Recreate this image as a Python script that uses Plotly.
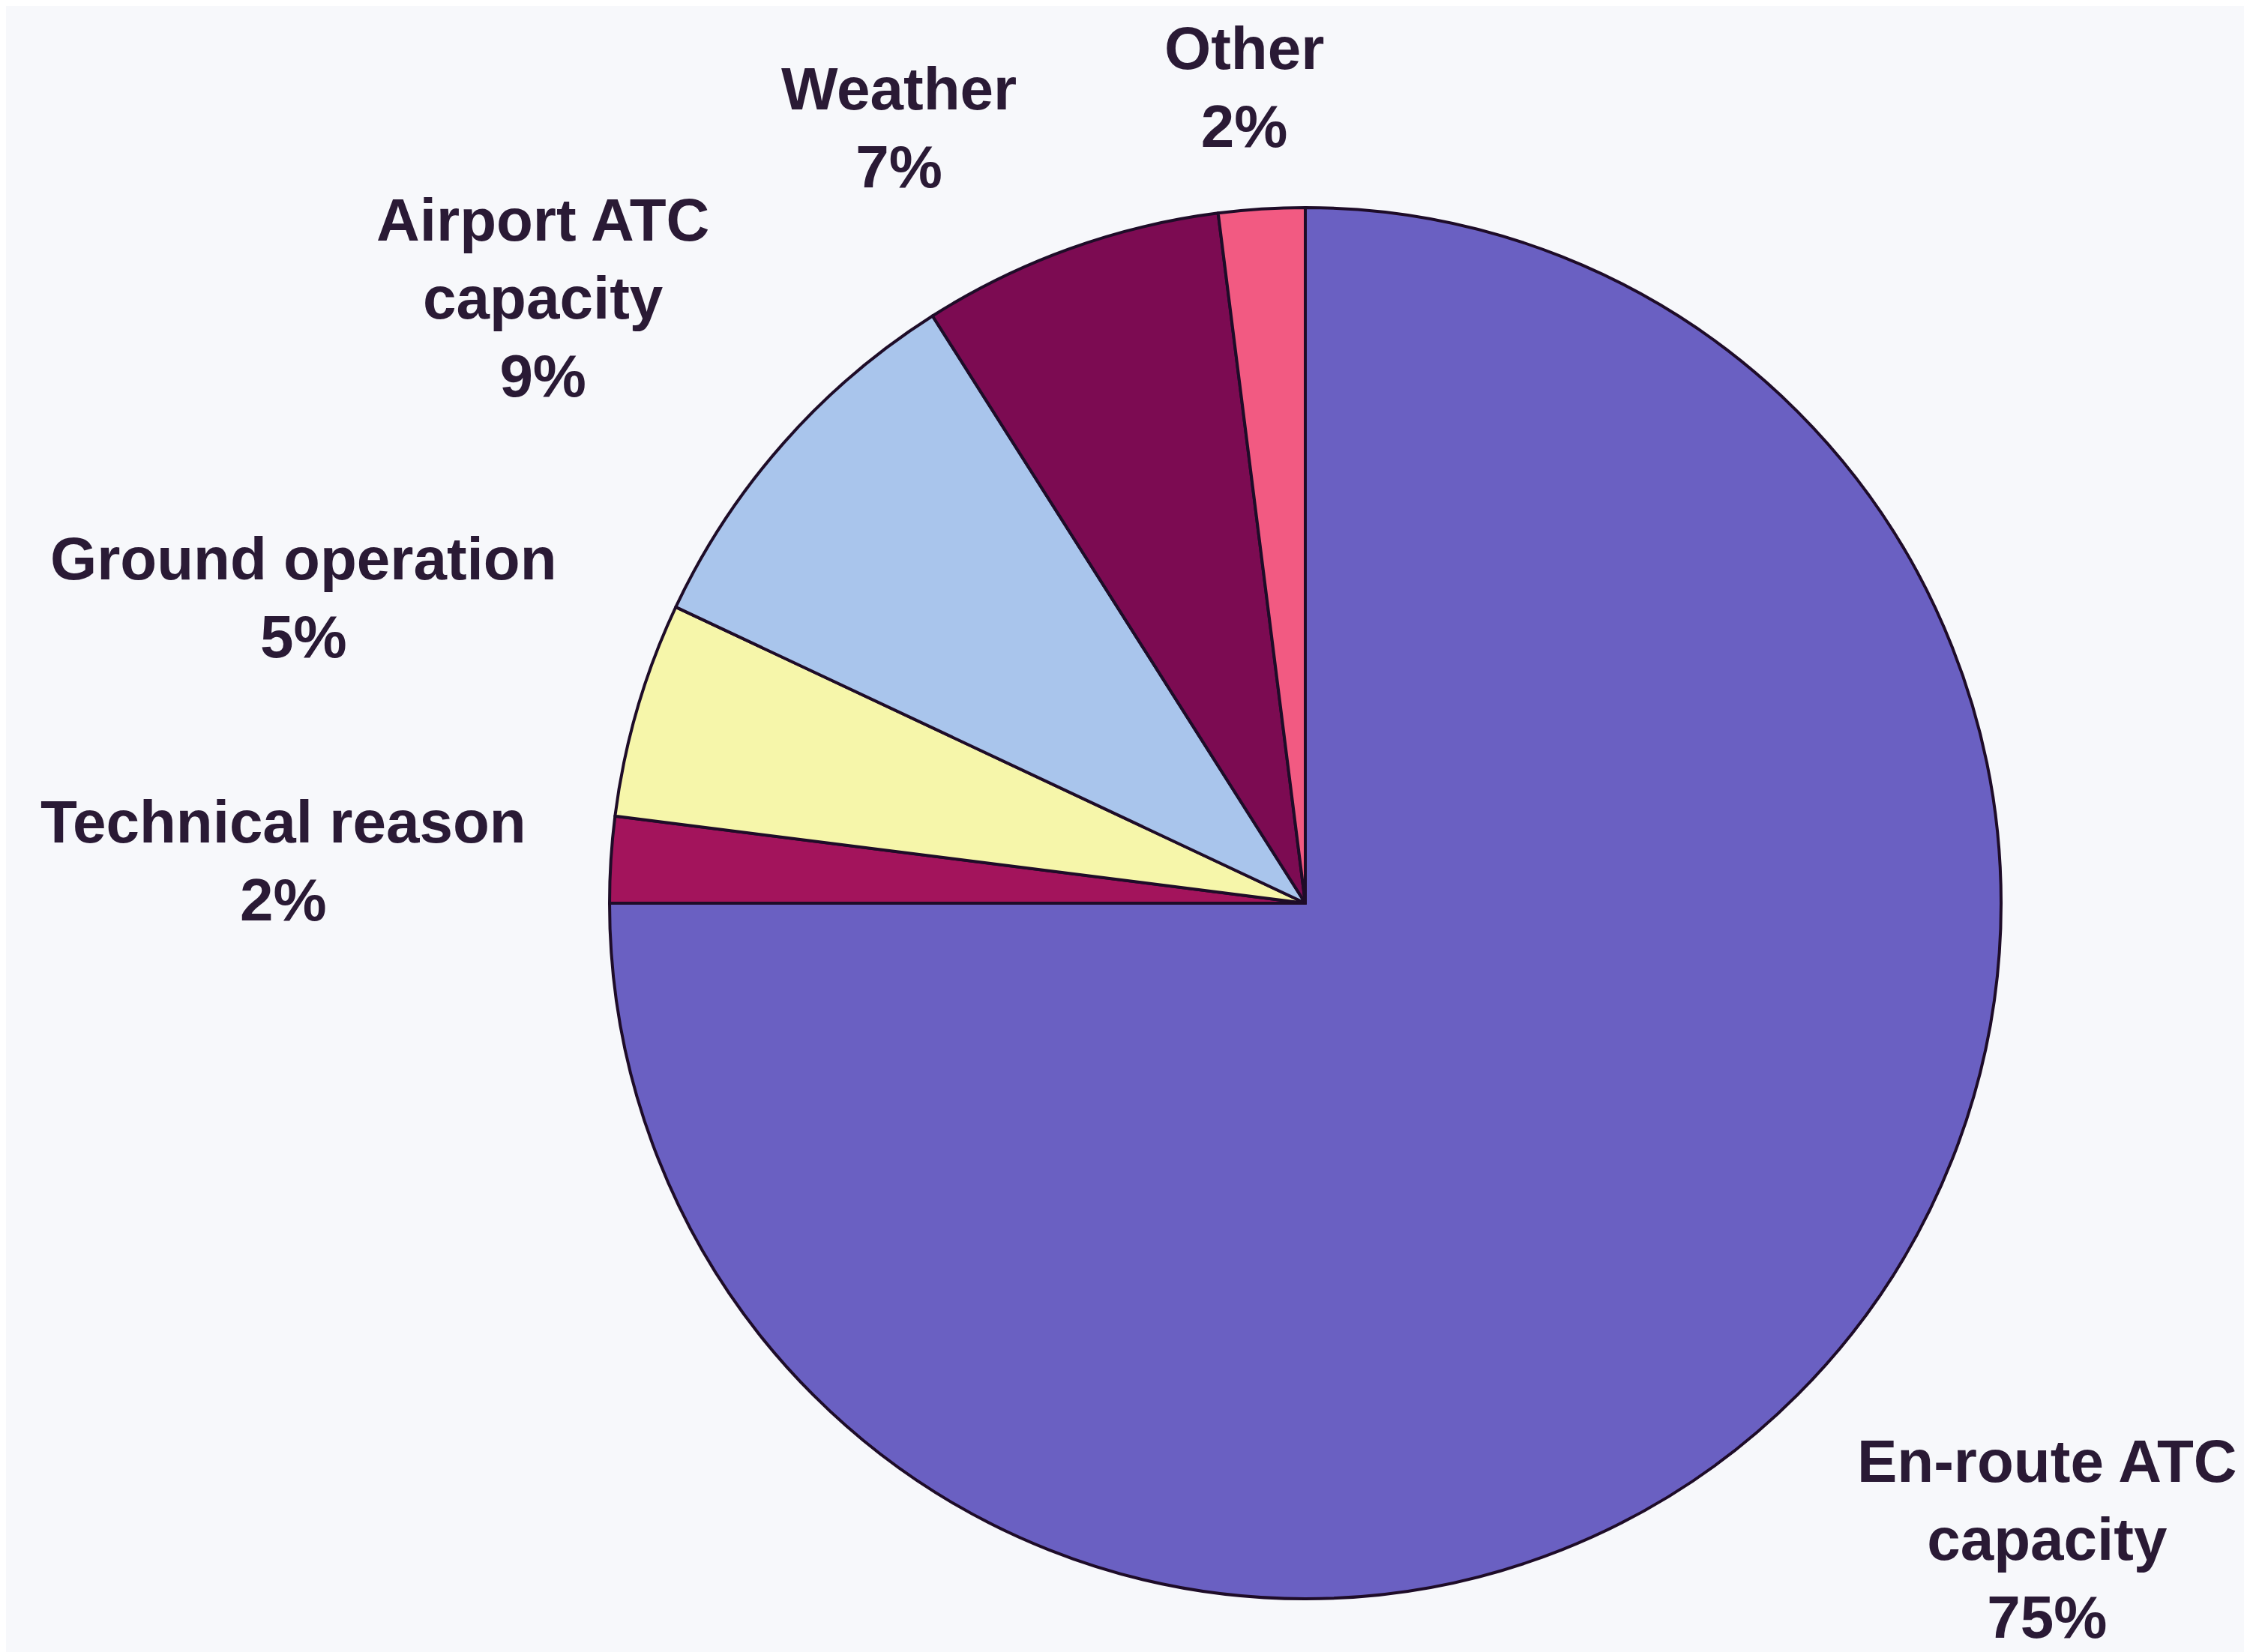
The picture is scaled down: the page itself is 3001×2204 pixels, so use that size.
import plotly.graph_objects as go

# Delay causes (share of total delay, %)
labels = ["En-route ATC<br>capacity", "Technical reason", "Ground operation",
          "Airport ATC<br>capacity", "Weather", "Other"]
values = [75, 2, 5, 9, 7, 2]
colors = ["#6a60c2", "#a3145c", "#f6f6aa", "#a9c5ec", "#7c0b52", "#f25a82"]

# label placement (pixel coords, centre of each text block)
label_x = [2722, 370, 397, 716, 1191, 1651]
label_y = [2045, 1140, 790, 390, 162, 108]

W, H = 3001, 2204
cx, cy, r = 1733, 1197, 928

fig = go.Figure(go.Pie(
    labels=labels,
    values=values,
    sort=False,
    direction="clockwise",
    rotation=0,
    textinfo="none",
    hoverinfo="label+percent",
    marker=dict(colors=colors, line=dict(color="#1e0c28", width=4)),
    domain=dict(x=[(cx - r) / W, (cx + r) / W],
                y=[(H - cy - r) / H, (H - cy + r) / H]),
    showlegend=False,
))

for lab, val, x, y in zip(labels, values, label_x, label_y):
    fig.add_annotation(
        x=x / W, y=1 - y / H, xref="paper", yref="paper",
        text=f"{lab}<br>{val}%", showarrow=False,
        xanchor="center", yanchor="middle", align="center",
        font=dict(family="Liberation Sans", size=80, color="#2a1a35", weight="bold"),
    )

fig.update_layout(
    width=W, height=H,
    margin=dict(l=0, r=0, t=0, b=0),
    paper_bgcolor="#f7f8fb",
    plot_bgcolor="#f7f8fb",
)

fig.write_html("out.html")
